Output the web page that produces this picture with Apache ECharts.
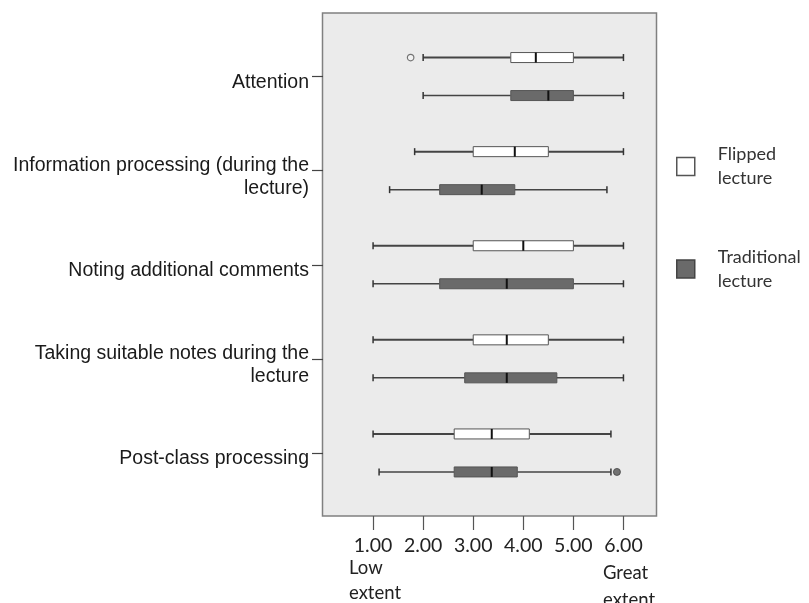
<!DOCTYPE html>
<html>
<head>
<meta charset="utf-8">
<script src="https://cdn.jsdelivr.net/npm/echarts@6/dist/echarts.min.js"></script>
<style>
html,body{margin:0;padding:0;background:#fff;}
#chart{width:809px;height:603px;}
</style>
</head>
<body>
<div id="chart"></div>
<script>
// ---- data ----
const categories = [
  'Attention',
  'Information processing (during the\nlecture)',
  'Noting additional comments',
  'Taking suitable notes during the\nlecture',
  'Post-class processing'
];
// [low whisker, Q1, median, Q3, high whisker]
const flippedBoxes = [
  [2.00, 3.75, 4.25, 5.00, 6.00],
  [1.83, 3.00, 3.83, 4.50, 6.00],
  [1.00, 3.00, 4.00, 5.00, 6.00],
  [1.00, 3.00, 3.67, 4.50, 6.00],
  [1.00, 2.62, 3.37, 4.12, 5.75]
];
const traditionalBoxes = [
  [2.00, 3.75, 4.50, 5.00, 6.00],
  [1.33, 2.33, 3.17, 3.83, 5.67],
  [1.00, 2.33, 3.67, 5.00, 6.00],
  [1.00, 2.83, 3.67, 4.67, 6.00],
  [1.12, 2.62, 3.37, 3.88, 5.75]
];
// [value, category index]
const flippedOutliers = [[1.75, 0]];
const traditionalOutliers = [[5.87, 4]];
const tickValues = [1, 2, 3, 4, 5, 6];
const seriesNames = ['Flipped lecture', 'Traditional lecture'];

// ---- style ----
const FLIP_FILL = '#ffffff';
const TRAD_FILL = '#6a6a6a';
const OFFSET = 19;

function toRows(boxes) {
  return boxes.map((b, i) => [i].concat(b));
}

function makeRender(offset, fill, whiskerWidth) {
  return function (params, api) {
    const c = api.value(0);
    const lo = api.coord([api.value(1), c]);
    const q1 = api.coord([api.value(2), c]);
    const md = api.coord([api.value(3), c]);
    const q3 = api.coord([api.value(4), c]);
    const hi = api.coord([api.value(5), c]);
    const y = lo[1] + offset;
    const h = 10, cap = 3.5;
    const lineStyle = { stroke: '#444', lineWidth: whiskerWidth };
    return {
      type: 'group',
      children: [
        { type: 'line', shape: { x1: lo[0], y1: y, x2: q1[0], y2: y }, style: lineStyle },
        { type: 'line', shape: { x1: q3[0], y1: y, x2: hi[0], y2: y }, style: lineStyle },
        { type: 'line', shape: { x1: lo[0], y1: y - cap, x2: lo[0], y2: y + cap }, style: { stroke: '#333', lineWidth: 1.5 } },
        { type: 'line', shape: { x1: hi[0], y1: y - cap, x2: hi[0], y2: y + cap }, style: { stroke: '#333', lineWidth: 1.5 } },
        { type: 'rect', shape: { x: q1[0], y: y - h / 2, width: q3[0] - q1[0], height: h }, style: { fill: fill, stroke: '#555', lineWidth: 1 } },
        { type: 'line', shape: { x1: md[0], y1: y - h / 2, x2: md[0], y2: y + h / 2 }, style: { stroke: '#111', lineWidth: 2 } }
      ]
    };
  };
}

const chart = echarts.init(document.getElementById('chart'), null, { renderer: 'canvas' });

const option = {
  animation: false,
  backgroundColor: '#ffffff',
  grid: { left: 323, right: 153, top: 29.5, height: 470.5, containLabel: false },
  graphic: [
    { type: 'rect', z: -5, shape: { x: 322.5, y: 13, width: 334, height: 503 },
      style: { fill: '#ebebeb', stroke: '#808080', lineWidth: 1.5 } },
    { type: 'text', left: 349, top: 556, style: { text: 'Low\nextent', font: '18.5px Lato', fill: '#222', lineHeight: 25 } },
    { type: 'text', left: 603, top: 560, style: { text: 'Great\nextent', font: '18.5px Lato', fill: '#222', lineHeight: 27 } }
  ],
  legend: {
    orient: 'vertical',
    left: 676,
    top: 142.5,
    padding: 0,
    itemGap: 54.5,
    itemWidth: 18,
    itemHeight: 18,
    icon: 'rect',
    selectedMode: false,
    formatter: (n) => n.replace(' ', '\n'),
    textStyle: { fontFamily: 'Lato', fontSize: 18, color: '#333', lineHeight: 24, padding: [0, 0, 0, 18] },
    data: [
      { name: seriesNames[0], itemStyle: { color: FLIP_FILL, borderColor: '#555', borderWidth: 1.5 } },
      { name: seriesNames[1], itemStyle: { color: TRAD_FILL, borderColor: '#444', borderWidth: 1.5 } }
    ]
  },
  xAxis: {
    type: 'value',
    min: 0,
    max: 6.65,
    interval: 1,
    offset: 16,
    splitLine: { show: false },
    axisLine: { show: false },
    axisTick: { show: true, customValues: tickValues, length: 14, lineStyle: { color: '#555', width: 1.2 } },
    axisLabel: {
      customValues: tickValues,
      formatter: (v) => v.toFixed(2),
      fontFamily: 'Lato', fontSize: 19.5, color: '#222', margin: 20
    }
  },
  yAxis: {
    type: 'category',
    inverse: true,
    data: categories,
    axisLine: { show: false },
    splitLine: { show: false },
    axisTick: { show: true, alignWithLabel: true, length: 11, lineStyle: { color: '#444', width: 1.2 } },
    axisLabel: {
      interval: 0,
      margin: 14,
      align: 'right',
      formatter: (v) => '{g| }\n' + v.split('\n').map((l) => '{t|' + l + '}').join('\n'),
      rich: {
        g: { fontSize: 6, lineHeight: 12, align: 'right' },
        t: { fontFamily: 'Liberation Sans, Arial', fontSize: 19.5, color: '#1a1a1a', lineHeight: 23, align: 'right' }
      }
    }
  },
  series: [
    {
      name: seriesNames[0], type: 'custom',
      itemStyle: { color: FLIP_FILL, borderColor: '#555' },
      renderItem: makeRender(-OFFSET, FLIP_FILL, 2),
      encode: { x: [1, 2, 3, 4, 5], y: 0 },
      data: toRows(flippedBoxes), z: 3
    },
    {
      name: seriesNames[1], type: 'custom',
      itemStyle: { color: TRAD_FILL, borderColor: '#444' },
      renderItem: makeRender(OFFSET, TRAD_FILL, 1.5),
      encode: { x: [1, 2, 3, 4, 5], y: 0 },
      data: toRows(traditionalBoxes), z: 3
    },
    {
      name: 'Flipped outliers', type: 'scatter',
      symbol: 'circle', symbolSize: 6.5, symbolOffset: [0, -OFFSET],
      itemStyle: { color: '#f4f4f4', borderColor: '#555', borderWidth: 1.2 },
      data: flippedOutliers, z: 4
    },
    {
      name: 'Traditional outliers', type: 'scatter',
      symbol: 'circle', symbolSize: 7, symbolOffset: [0, OFFSET],
      itemStyle: { color: '#555', borderColor: '#444', borderWidth: 1 },
      data: traditionalOutliers, z: 4
    }
  ]
};
chart.setOption(option);
</script>
</body>
</html>
